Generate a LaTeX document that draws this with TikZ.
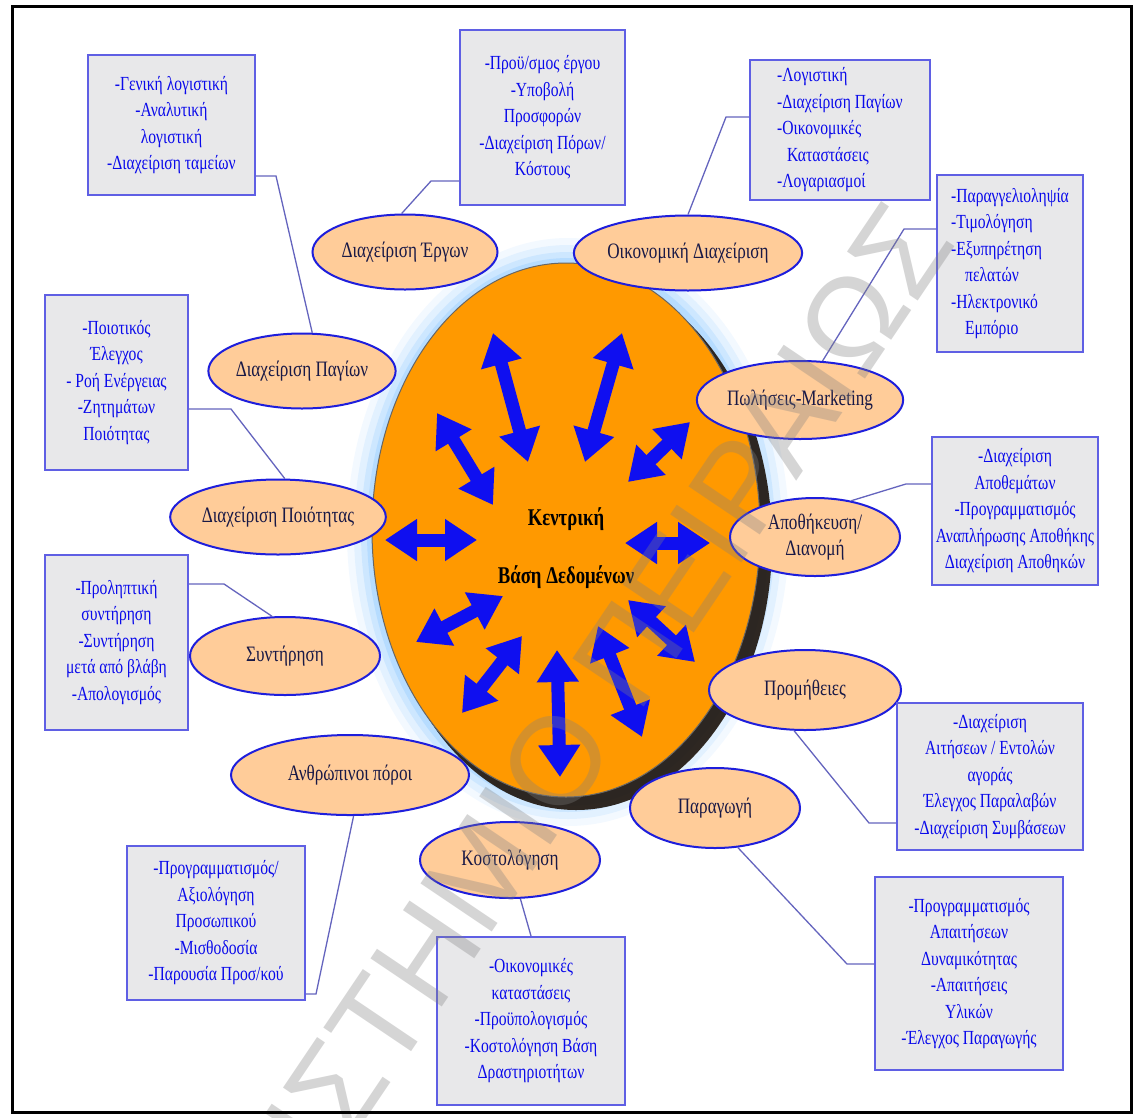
\documentclass[tikz,border=0pt]{standalone}
\usepackage{fontspec}
\setmainfont[FakeStretch=0.78]{Liberation Serif}
\newfontfamily\wmfont{Liberation Sans}
\usetikzlibrary{shapes.geometric,arrows.meta,calc}

\definecolor{dborange}{RGB}{255,153,0}
\definecolor{peach}{RGB}{255,204,153}
\definecolor{ellborder}{RGB}{30,30,220}
\definecolor{boxfill}{RGB}{232,232,234}
\definecolor{boxborder}{RGB}{95,95,228}
\definecolor{boxtext}{RGB}{10,10,235}
\definecolor{linkcol}{RGB}{100,100,190}
\definecolor{arrowblue}{RGB}{15,15,240}
\definecolor{glowblue}{RGB}{140,200,255}
\definecolor{labeltext}{RGB}{25,25,70}

\tikzset{
  module/.style={ellipse, draw=ellborder, line width=2pt, fill=peach,
    inner sep=0pt, text=labeltext, align=center,
    font=\fontsize{22}{26}\selectfont},
  infobox/.style={rectangle, draw=boxborder, line width=2pt, fill=boxfill,
    inner sep=4pt, text=boxtext, align=center,
    font=\fontsize{20}{26.5}\selectfont},
  link/.style={draw=linkcol, line width=1.3pt},
  flow/.style={draw=arrowblue, line width=13pt,
    {Triangle[length=32pt,width=40pt]}-{Triangle[length=32pt,width=40pt]}},
}

\begin{document}
\begin{tikzpicture}[x=1pt,y=-1pt]
\useasboundingbox (0,0) rectangle (1139,1117);
\fill[white] (0,0) rectangle (1139,1117);

% glow and shadow of the central database
\foreach \r/\o in {26/0.10,19/0.16,12/0.24,6/0.35}
  \fill[glowblue,opacity=\o] (568,532) ellipse [x radius={195pt+\r pt}, y radius={268pt+\r pt}];
\fill[black!85!brown,opacity=0.9] (576,542) ellipse [x radius=196pt, y radius=268pt];
\node[ellipse, fill=dborange, draw=black!60, line width=1pt,
      minimum width=388pt, minimum height=534pt, inner sep=0pt] (db) at (566,530) {};
\node[font=\bfseries\fontsize{24}{58}\selectfont, align=center] (dbl) at (566,548)
  {Κεντρική\\Βάση Δεδομένων};

% double arrows between the database and the modules
\draw[flow] (493,333) -- (528,462);
\draw[flow] (622,333) -- (585,462);
\draw[flow] (437,413) -- (493,505);
\draw[flow] (690,422) -- (628,482);
\draw[flow] (385,540) -- (477,540);
\draw[flow] (625,543) -- (710,543);
\draw[flow] (416,642) -- (503,596);
\draw[flow] (628,600) -- (695,662);
\draw[flow] (462,713) -- (522,636);
\draw[flow] (557,650) -- (560,777);
\draw[flow] (598,626) -- (642,737);

% modules
\node[module, minimum width=185pt, minimum height=75pt] (e1) at (405,252) {Διαχείριση Έργων};
\node[module, minimum width=205pt, minimum height=75pt] (e2) at (688,253) {Οικονομική Διαχείριση};
\node[module, minimum width=187pt, minimum height=75pt] (e3) at (302,371) {Διαχείριση Παγίων};
\node[module, minimum width=190pt, minimum height=78pt] (e4) at (800,400) {Πωλήσεις-Marketing};
\node[module, minimum width=215pt, minimum height=75pt] (e5) at (278,517) {Διαχείριση Ποιότητας};
\node[module, minimum width=170pt, minimum height=78pt] (e6) at (815,537) {Αποθήκευση/\\Διανομή};
\node[module, minimum width=190pt, minimum height=78pt] (e7) at (285,656) {Συντήρηση};
\node[module, minimum width=192pt, minimum height=80pt] (e8) at (805,690) {Προμήθειες};
\node[module, minimum width=238pt, minimum height=80pt] (e9) at (350,775) {Ανθρώπινοι πόροι};
\node[module, minimum width=170pt, minimum height=80pt] (e10) at (715,808) {Παραγωγή};
\node[module, minimum width=180pt, minimum height=76pt] (e11) at (510,860) {Κοστολόγηση};

% detail boxes
\node[infobox, minimum width=167pt, minimum height=140pt] (b1) at (171.5,125)
  {-Γενική λογιστική\\-Αναλυτική\\λογιστική\\-Διαχείριση ταμείων};
\node[infobox, minimum width=165pt, minimum height=175pt] (b2) at (542.5,117.5)
  {-Προϋ/σμος έργου\\-Υποβολή\\Προσφορών\\-Διαχείριση Πόρων/\\Κόστους};
\node[infobox, minimum width=180pt, minimum height=140pt, align=left] (b3) at (840,130)
  {-Λογιστική\\-Διαχείριση Παγίων\\-Οικονομικές\\\hspace*{10pt}Καταστάσεις\\-Λογαριασμοί};
\node[infobox, minimum width=146pt, minimum height=177pt, align=left] (b4) at (1010,263.5)
  {-Παραγγελιοληψία\\-Τιμολόγηση\\-Εξυπηρέτηση\\\hspace*{14pt}πελατών\\-Ηλεκτρονικό\\\hspace*{14pt}Εμπόριο};
\node[infobox, minimum width=143pt, minimum height=175pt] (b5) at (116.5,382.5)
  {-Ποιοτικός\\Έλεγχος\\- Ροή Ενέργειας\\-Ζητημάτων\\Ποιότητας};
\node[infobox, minimum width=156pt, minimum height=148pt] (b6) at (1015,511)
  {-Διαχείριση\\Αποθεμάτων\\-Προγραμματισμός\\Αναπλήρωσης Αποθήκης\\Διαχείριση Αποθηκών};
\node[infobox, minimum width=143pt, minimum height=175pt] (b7) at (116.5,642.5)
  {-Προληπτική\\συντήρηση\\-Συντήρηση\\μετά από βλάβη\\-Απολογισμός};
\node[infobox, minimum width=186pt, minimum height=147pt] (b8) at (990,776.5)
  {-Διαχείριση\\Αιτήσεων / Εντολών\\αγοράς\\Έλεγχος Παραλαβών\\-Διαχείριση Συμβάσεων};
\node[infobox, minimum width=178pt, minimum height=154pt] (b9) at (216,923)
  {-Προγραμματισμός/\\Αξιολόγηση\\Προσωπικού\\-Μισθοδοσία\\-Παρουσία Προσ/κού};
\node[infobox, minimum width=188pt, minimum height=168pt] (b10) at (531,1021)
  {-Οικονομικές\\καταστάσεις\\-Προϋπολογισμός\\-Κοστολόγηση Βάση\\Δραστηριοτήτων};
\node[infobox, minimum width=188pt, minimum height=193pt] (b11) at (969,973.5)
  {-Προγραμματισμός\\Απαιτήσεων\\Δυναμικότητας\\-Απαιτήσεις\\Υλικών\\-Έλεγχος Παραγωγής};

% links from boxes to modules
\draw[link] ($(b1.south east)+(0,-20)$) -- ++(20,0) -- (e3.75);
\draw[link] ($(b2.south west)+(0,-25)$) -- ++(-28,0) -- (e1.95);
\draw[link] ($(b3.north west)+(0,58)$) -- ++(-23,0) -- (e2.north);
\draw[link] ($(b4.north west)+(0,55)$) -- ++(-32,0) -- (e4.60);
\draw[link] ($(b5.south east)+(0,-62)$) -- ++(42,0) -- (e5.80);
\draw[link] ($(b6.north west)+(0,48)$) -- ++(-25,0) -- (e6.45);
\draw[link] ($(b7.north east)+(0,30)$) -- ++(35,0) -- (e7.108);
\draw[link] ($(b8.south west)+(0,-28)$) -- ++(-27,0) -- (e8.-105);
\draw[link] ($(b9.south east)+(0,-7)$) -- ++(10,0) -- (e9.-85);
\draw[link] ($(b10.north west)+(95,0)$) -- (e11.-75);
\draw[link] ($(b11.north west)+(0,88)$) -- ++(-27,0) -- (e10.-60);

% watermark
\begin{scope}
\clip (0,0) rectangle (1139,1117);
\node[font=\wmfont\fontsize{125}{125}\selectfont, text=gray, text opacity=0.33,
      rotate=56, anchor=east, inner sep=0pt] (wm) at (922,218)
  {ΠΑΝΕΠΙΣΤΗΜΙΟ ΠΕΙΡΑΙΩΣ};
\end{scope}

% frame
\draw[line width=3pt] (12,6) rectangle (1131,1112);
\end{tikzpicture}
\end{document}
